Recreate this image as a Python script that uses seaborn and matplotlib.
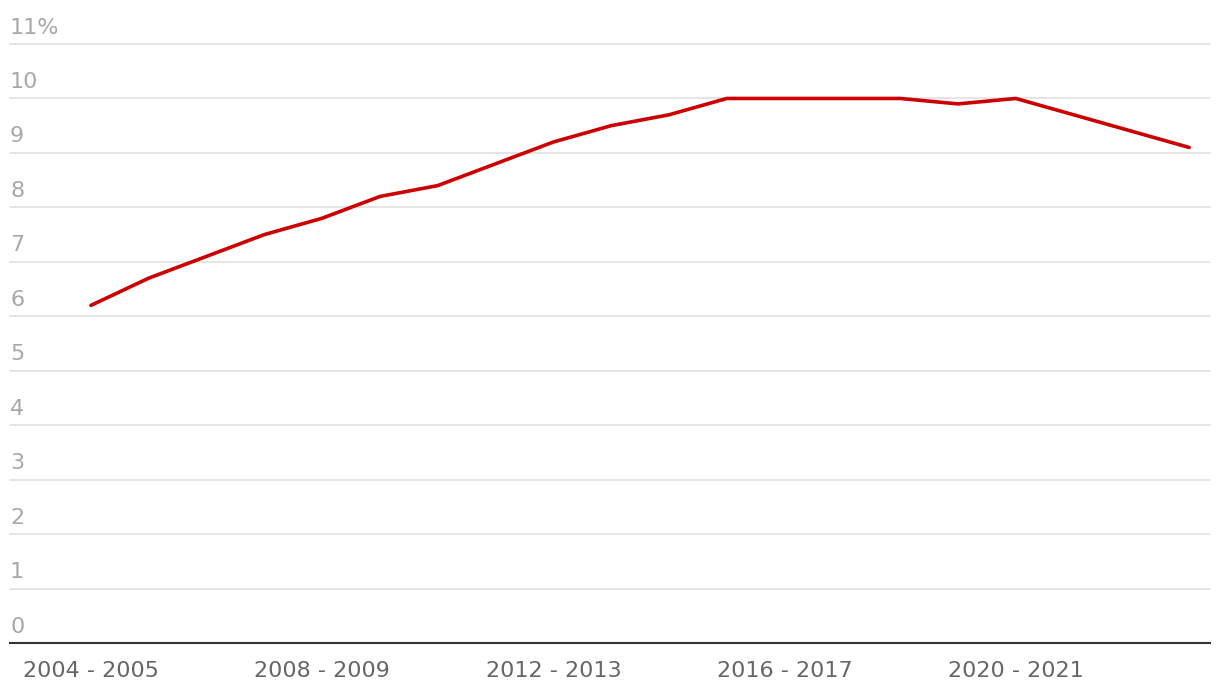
import numpy as np
import pandas as pd
import matplotlib
matplotlib.use('Agg')
import matplotlib.pyplot as plt
import matplotlib.transforms as mtransforms
import seaborn as sns

seasons=['2004 - 2005', '2005 - 2006', '2006 - 2007', '2007 - 2008', '2008 - 2009',
         '2009 - 2010', '2010 - 2011', '2011 - 2012', '2012 - 2013', '2013 - 2014',
         '2014 - 2015', '2015 - 2016', '2016 - 2017', '2017 - 2018', '2018 - 2019',
         '2019 - 2020', '2020 - 2021', '2021 - 2022', '2022 - 2023', '2023 - 2024']
share=[6.2, 6.7, 7.1, 7.5, 7.8, 8.2, 8.4, 8.8, 9.2, 9.5,
       9.7, 10.0, 10.0, 10.0, 10.0, 9.9, 10.0, 9.7, 9.4, 9.1]
y_ticks=[0, 1, 2, 3, 4, 5, 6, 7, 8, 9, 10, 11]
y_labels=['0', '1', '2', '3', '4', '5', '6', '7', '8', '9', '10', '11%']

df=pd.DataFrame({'idx': np.arange(len(seasons)), 'season': seasons, 'share': share})

sns.set_theme(style='white')
plt.rcParams['font.family']=['DejaVu Sans']

fig=plt.figure(figsize=(12.2, 6.94), dpi=100)
ax=fig.add_axes([10/1220, 1-643/694, 1200/1220, (643-44)/694])

sns.lineplot(data=df, x='idx', y='share', color='#cc0000', linewidth=2.6, ax=ax)

ax.set_ylim(0, 11)
ax.set_xlim(-1.4, 19.36)
ax.set_yticks(y_ticks)
ax.yaxis.grid(True, color='#e3e3e3', linewidth=1.3)
for gl in ax.yaxis.get_gridlines():
    gl.set_clip_on(False)
ax.set_axisbelow(True)
ax.tick_params(axis='y', left=False, labelleft=False)

# y labels sit above their gridline, flush left
offset=mtransforms.ScaledTranslation(0, 7.5/72, fig.dpi_scale_trans)
for v, lab in zip(y_ticks, y_labels):
    ax.text(0, v, lab, transform=ax.get_yaxis_transform() + offset,
            ha='left', va='baseline', fontsize=16, color='#a8a8a8')

ax.set_xticks(df['idx'][::4])
ax.set_xticklabels(df['season'][::4], fontsize=16, color='#666666')
ax.tick_params(axis='x', bottom=False, pad=7)
ax.set_xlabel('')
ax.set_ylabel('')

for s in ['top', 'right', 'left']:
    ax.spines[s].set_visible(False)
ax.spines['bottom'].set_color('#333333')
ax.spines['bottom'].set_linewidth(1.5)

fig.savefig('out.png', dpi=100, facecolor='white')
